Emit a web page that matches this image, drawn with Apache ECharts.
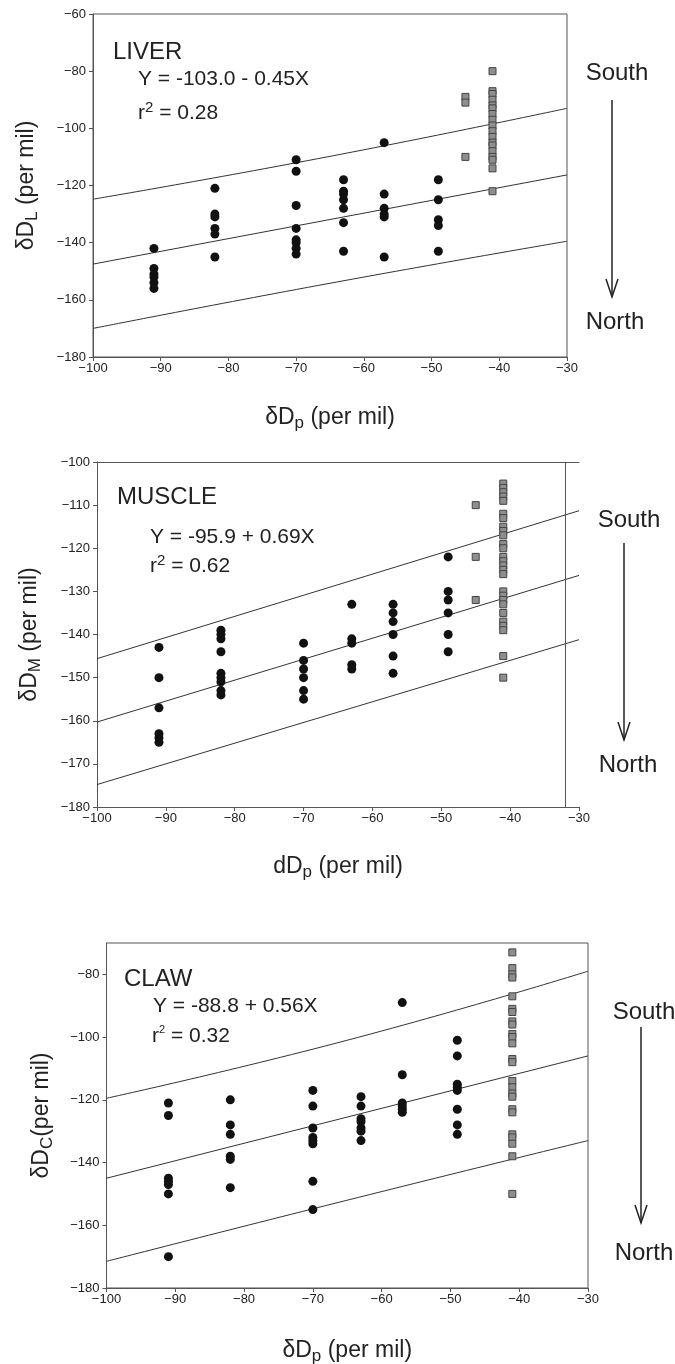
<!DOCTYPE html>
<html>
<head>
<meta charset="utf-8">
<script src="https://cdn.jsdelivr.net/npm/echarts@6/dist/echarts.min.js"></script>
<style>
  html, body { margin: 0; padding: 0; background: #fff; }
  #chart { width: 675px; height: 1364px; }
</style>
</head>
<body>
<div id="chart"></div>
<script>
// sampling sites, δDp of precipitation (per mil)
const siteX = [-91, -82, -70, -63, -57, -49];
const squareX = [-45, -41];

// LIVER
const liverCircles = [
  [-142, -149, -151, -152, -154, -156],
  [-121, -130, -131, -135, -137, -145],
  [-111, -115, -127, -135, -139, -140, -142, -144],
  [-118, -122, -123, -125, -128, -133, -143],
  [-105, -123, -128, -130, -131, -145],
  [-118, -125, -132, -134, -143]
];
const liverSquares = [
  [-89, -91, -110],
  [-80, -87, -88, -90, -92, -93, -95, -97, -99, -101, -103, -105, -106, -108, -110, -111, -114, -122]
];
const liverUpper = [[-100, -124.8], [-65, -109.8], [-30, -93]];
const liverFit = [[-100, -147.5], [-30, -116.3]];
const liverLower = [[-100, -170], [-65, -154.2], [-30, -139.5]];

// MUSCLE
const muscleCircles = [
  [-143, -150, -157, -163, -164, -165],
  [-139, -140, -141, -144, -149, -150, -151, -153, -154],
  [-142, -146, -148, -150, -153, -155],
  [-133, -141, -142, -147, -148],
  [-133, -135, -137, -140, -145, -149],
  [-122, -130, -132, -135, -140, -144]
];
const muscleSquares = [
  [-110, -122, -132],
  [-105, -106, -107, -108, -109, -112, -113, -115, -116, -117, -119, -120, -122, -123, -124, -125, -126,
   -130, -131, -132, -133, -135, -137, -138, -139, -145, -150]
];
const muscleUpper = [[-100, -145.6], [-30, -111.3]];
const muscleFit = [[-100, -160.3], [-30, -126.3]];
const muscleLower = [[-100, -174.8], [-30, -141.2]];

// CLAW
const clawCircles = [
  [-121, -125, -145, -146, -147, -150, -170],
  [-120, -128, -131, -138, -139, -148],
  [-117, -122, -129, -132, -133, -134, -146, -155],
  [-119, -122, -126, -127, -129, -130, -133],
  [-89, -112, -121, -122, -123, -124],
  [-101, -106, -115, -116, -117, -123, -128, -131]
];
const clawSquares = [
  [],
  [-73, -78, -80, -81, -87, -91, -92, -95, -96, -99, -100, -102, -107, -108,
   -114, -116, -118, -119, -123, -124, -131, -132, -134, -138, -150]
];
const clawUpper = [[-100, -119.5], [-65, -101], [-30, -79]];
const clawFit = [[-100, -145], [-30, -106]];
const clawLower = [[-100, -171.5], [-65, -152], [-30, -133]];

const FONT = "'Liberation Sans', Arial, sans-serif";
const NARROW = "'Liberation Sans Narrow', 'Liberation Sans', Arial, sans-serif";
const INK = '#222';
const AXIS = '#555';

const toPoints = (xs, groups) => groups.flatMap((g, i) => g.map(y => [xs[i], y]));
const minus = v => String(v).replace('-', '\u2212');

const panels = [
  {
    grid: { left: 93, top: 14, width: 474, height: 343 },
    yMin: -180, yMax: -60, yStep: 20,
    yName: '{m|δD}{s|L}{m| (per mil)}', yGap: 52,
    xName: '{m|δD}{s|p}{m| (per mil)}', xGap: 47,
    circles: liverCircles, squares: liverSquares,
    bands: [liverUpper, liverFit, liverLower]
  },
  {
    grid: { left: 97, top: 462, width: 482, height: 345 },
    yMin: -180, yMax: -100, yStep: 10,
    yName: '{m|δD}{s|M}{m| (per mil)}', yGap: 53,
    xName: '{m|dD}{s|p}{m| (per mil)}', xGap: 46,
    circles: muscleCircles, squares: muscleSquares,
    bands: [muscleUpper, muscleFit, muscleLower],
    openFrame: true
  },
  {
    grid: { left: 106.5, top: 943, width: 481.5, height: 345 },
    yMin: -180, yMax: -70, yStep: 20,
    yTicks: [-180, -160, -140, -120, -100, -80],
    yName: '{m|δD}{s|C}{m|(per mil)}', yGap: 51,
    xName: '{m|δD}{s|p}{m| (per mil)}', xGap: 49,
    circles: clawCircles, squares: clawSquares,
    bands: [clawUpper, clawFit, clawLower]
  }
];

const nameRich = {
  m: { fontFamily: FONT, fontSize: 23, color: INK },
  s: { fontFamily: FONT, fontSize: 17, color: INK, padding: [11, 0, 0, 0] }
};

const grids = [], xAxes = [], yAxes = [], series = [];

panels.forEach((p, i) => {
  grids.push(Object.assign({
    show: !p.openFrame, borderColor: AXIS, borderWidth: 1,
    backgroundColor: 'transparent', containLabel: false, outerBoundsMode: 'none'
  }, p.grid));

  xAxes.push({
    type: 'value', gridIndex: i, min: -100, max: -30, interval: 10,
    axisLine: { show: true, onZero: false, lineStyle: { color: AXIS, width: 1 } },
    axisTick: { show: true, length: 4, lineStyle: { color: AXIS } },
    splitLine: { show: false },
    axisLabel: { fontFamily: NARROW, fontSize: 13, color: INK, margin: 5, formatter: minus },
    name: p.xName, nameLocation: 'middle', nameGap: p.xGap,
    nameTextStyle: { rich: nameRich }
  });

  const yTickCfg = { show: true, length: 4, lineStyle: { color: AXIS } };
  const yLabelCfg = { fontFamily: NARROW, fontSize: 13, color: INK, margin: 7, formatter: minus };
  if (p.yTicks) {
    yTickCfg.customValues = p.yTicks;
    yLabelCfg.customValues = p.yTicks;
  }
  yAxes.push({
    type: 'value', gridIndex: i, min: p.yMin, max: p.yMax, interval: p.yStep,
    axisLine: { show: true, onZero: false, lineStyle: { color: AXIS, width: 1 } },
    axisTick: yTickCfg,
    splitLine: { show: false },
    axisLabel: yLabelCfg,
    name: p.yName, nameLocation: 'middle', nameGap: p.yGap, nameRotate: 90,
    nameTextStyle: { rich: nameRich }
  });

  p.bands.forEach(b => {
    series.push({
      type: 'line', xAxisIndex: i, yAxisIndex: i, data: b,
      symbol: 'none', smooth: b.length > 2, silent: true, z: 1,
      lineStyle: { color: '#333', width: 1 }
    });
  });

  const circleSeries = {
    type: 'scatter', xAxisIndex: i, yAxisIndex: i,
    data: toPoints(siteX, p.circles),
    symbol: 'circle', symbolSize: 9, z: 3,
    itemStyle: { color: '#111', opacity: 1 }
  };
  if (p.openFrame) {
    circleSeries.markLine = {
      silent: true, symbol: 'none', label: { show: false },
      lineStyle: { color: AXIS, width: 1, type: 'solid' },
      data: [{ xAxis: -32 }]
    };
  }
  series.push(circleSeries);

  series.push({
    type: 'scatter', xAxisIndex: i, yAxisIndex: i,
    data: toPoints(squareX, p.squares),
    symbol: 'rect', symbolSize: 7, z: 3,
    itemStyle: { color: '#8e8e8e', borderColor: '#444', borderWidth: 1, opacity: 1 }
  });
});

// top frame line of the MUSCLE panel (its right edge stops short at -32)
xAxes.push({
  type: 'value', gridIndex: 1, position: 'top', min: -100, max: -30,
  axisLine: { show: true, onZero: false, lineStyle: { color: AXIS, width: 1 } },
  axisTick: { show: false }, axisLabel: { show: false }, splitLine: { show: false }
});

function txt(x, y, text, size, rich, align) {
  return {
    type: 'text', x: x, y: y, silent: true,
    style: {
      text: text, rich: rich || {}, fill: INK,
      fontFamily: FONT, fontSize: size,
      align: align || 'left', verticalAlign: 'middle',
      textAlign: align || 'left', textVerticalAlign: 'middle'
    }
  };
}

const supRich = {
  m: { fontFamily: FONT, fontSize: 21, fill: INK },
  u: { fontFamily: FONT, fontSize: 15, fill: INK, padding: [0, 0, 10, 0] }
};
const supRichSmall = {
  m: { fontFamily: FONT, fontSize: 21, fill: INK },
  u: { fontFamily: FONT, fontSize: 11, fill: INK, padding: [0, 0, 13, 0] }
};

function arrow(x, y1, y2) {
  return [
    { type: 'line', silent: true, shape: { x1: x, y1: y1, x2: x, y2: y2 },
      style: { stroke: INK, lineWidth: 1.5 } },
    { type: 'polyline', silent: true,
      shape: { points: [[x - 6, y2 - 18], [x, y2], [x + 6, y2 - 18]] },
      style: { stroke: INK, fill: null, lineWidth: 1.5 } }
  ];
}

const graphics = [
  txt(113, 52, 'LIVER', 24),
  txt(138, 79, 'Y = -103.0 - 0.45X', 21),
  txt(138, 113, '{m|r}{u|2}{m| = 0.28}', 21, supRich),
  txt(117, 497, 'MUSCLE', 24),
  txt(150, 537, 'Y = -95.9 + 0.69X', 21),
  txt(150, 566, '{m|r}{u|2}{m| = 0.62}', 21, supRich),
  txt(124, 979, 'CLAW', 24),
  txt(153, 1006, 'Y = -88.8 + 0.56X', 21),
  txt(152, 1036, '{m|r}{u|2}{m| = 0.32}', 21, supRichSmall),

  txt(617, 73, 'South', 24, null, 'center'),
  txt(615, 322, 'North', 24, null, 'center'),
  txt(629, 520, 'South', 24, null, 'center'),
  txt(628, 765, 'North', 24, null, 'center'),
  txt(644, 1012, 'South', 24, null, 'center'),
  txt(644, 1253, 'North', 24, null, 'center')
].concat(arrow(612, 100, 297), arrow(624, 543, 740), arrow(641, 1027, 1223));

const chart = echarts.init(document.getElementById('chart'), null, { renderer: 'canvas' });
chart.setOption({
  animation: false,
  backgroundColor: '#fff',
  grid: grids,
  xAxis: xAxes,
  yAxis: yAxes,
  series: series,
  graphic: graphics
});
</script>
</body>
</html>
